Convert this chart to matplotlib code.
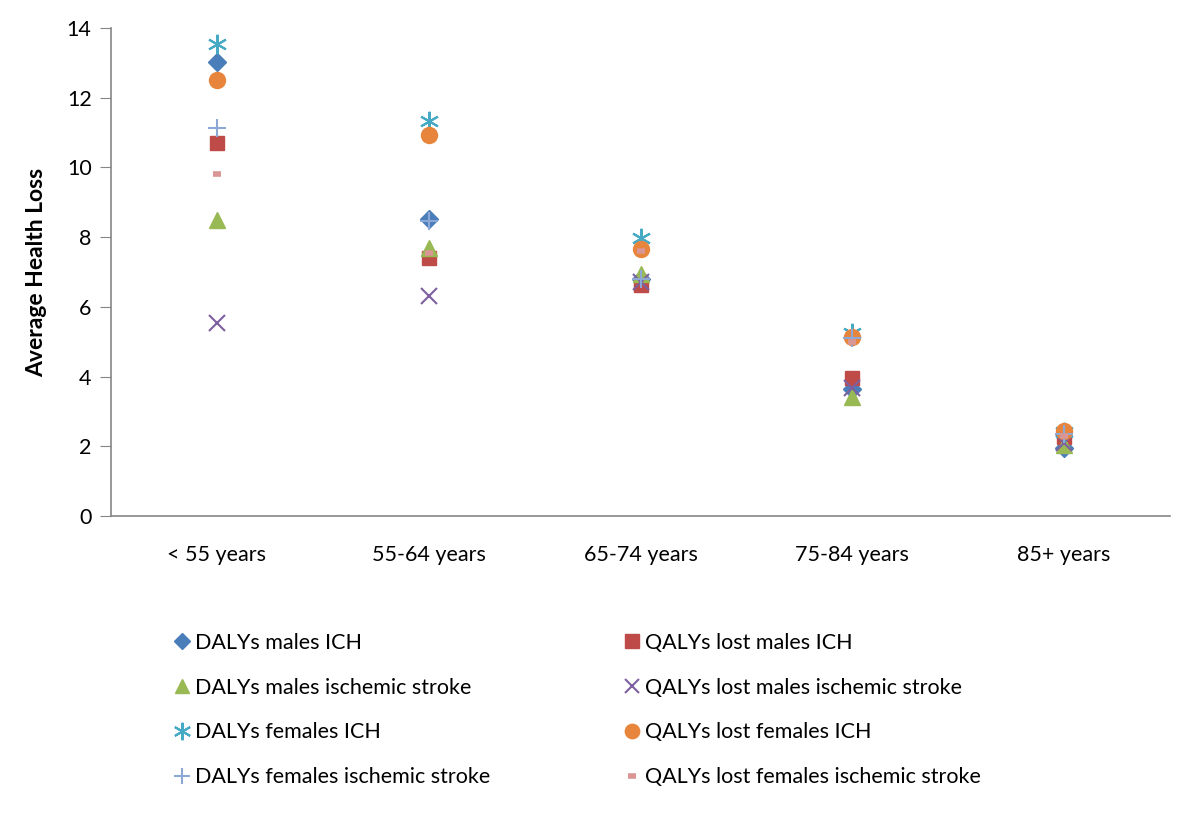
import matplotlib.pyplot as plt

plt.rcParams['font.family'] = ['Lato', 'DejaVu Sans']

categories = ['< 55 years', '55-64 years', '65-74 years', '75-84 years', '85+ years']

dalys_m_ich = [13.02, 8.52, 6.80, 3.64, 1.95]
qalys_m_ich = [10.70, 7.40, 6.63, 3.96, 2.27]
dalys_m_isch = [8.49, 7.69, 6.94, 3.41, 2.04]
qalys_m_isch = [5.54, 6.31, 6.70, 3.67, 2.10]
dalys_f_ich = [13.54, 11.33, 7.97, 5.25, 2.40]
qalys_f_ich = [12.50, 10.93, 7.66, 5.13, 2.44]
dalys_f_isch = [11.13, 8.47, 6.80, 5.10, 2.35]
qalys_f_isch = [9.81, 7.54, 7.60, 5.00, 2.30]

# label, values, marker, colour, size, filled
series = [
    ('DALYs males ICH', dalys_m_ich, 'D', '#4A7EBB', 9, True),
    ('QALYs lost males ICH', qalys_m_ich, 's', '#BE4B48', 10.5, True),
    ('DALYs males ischemic stroke', dalys_m_isch, '^', '#98B954', 11, True),
    ('QALYs lost males ischemic stroke', qalys_m_isch, 'x', '#7D60A0', 11, False),
    ('DALYs females ICH', dalys_f_ich, (6, 2, 0), '#46AAC5', 14, False),
    ('QALYs lost females ICH', qalys_f_ich, 'o', '#E8853C', 11.5, True),
    ('DALYs females ischemic stroke', dalys_f_isch, '+', '#8EA8D6', 13, False),
    ('QALYs lost females ischemic stroke', qalys_f_isch, '_', '#D99694', 6, False),
]

fig = plt.figure(figsize=(12, 8.19), dpi=100)
ax = fig.add_axes([0.0925, 0.370, 0.8825, 0.5958])

x = range(len(categories))
handles = []
for label, vals, mk, col, ms, filled in series:
    if filled:
        h, = ax.plot(x, vals, linestyle='none', marker=mk, markersize=ms,
                     color=col, markeredgecolor=col, label=label)
    elif mk == '_':
        h, = ax.plot(x, vals, linestyle='none', marker=mk, markersize=ms,
                     color=col, markeredgewidth=4, label=label)
    else:
        h, = ax.plot(x, vals, linestyle='none', marker=mk, markersize=ms,
                     color=col, markeredgewidth=1.5, label=label)
    handles.append(h)

ax.set_xlim(-0.5, 4.5)
ax.set_ylim(0, 14)
ax.set_yticks(range(0, 15, 2))
ax.set_xticks(list(x))
ax.set_xticklabels(categories, fontsize=15.5)
ax.tick_params(axis='y', labelsize=15.5, length=8, color='#868686', pad=6)
ax.tick_params(axis='x', length=0, pad=21)
ax.set_ylabel('Average Health Loss', fontsize=16.5, fontweight='bold', labelpad=14)

for s in ['top', 'right']:
    ax.spines[s].set_visible(False)
for s in ['left', 'bottom']:
    ax.spines[s].set_color('#868686')
    ax.spines[s].set_linewidth(1.2)

# two legend columns, DALYs on the left, QALYs on the right
left = handles[0::2]
right = handles[1::2]
kw = dict(frameon=False, fontsize=15.5, labelspacing=1.15, handlelength=0.8,
          handletextpad=0.2, loc='upper left', markerscale=0.9)
fig.legend(handles=left, labels=[h.get_label() for h in left],
           bbox_to_anchor=(0.128, 0.251), **kw)
fig.legend(handles=right, labels=[h.get_label() for h in right],
           bbox_to_anchor=(0.503, 0.251), **kw)

fig.savefig('out.png', dpi=100)
